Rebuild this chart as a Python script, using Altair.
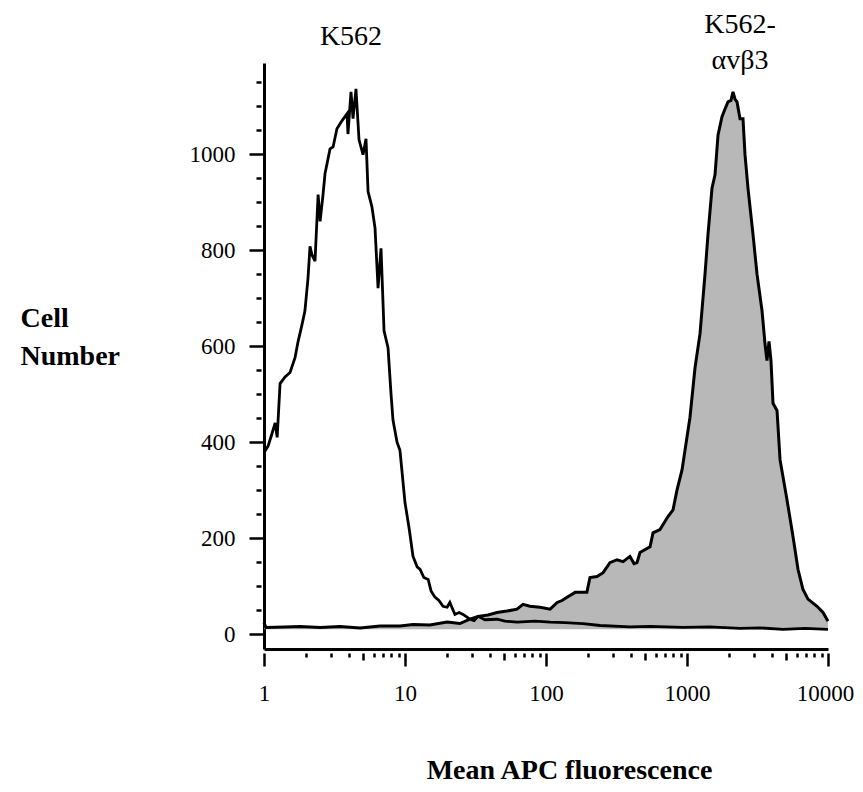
import altair as alt
import pandas as pd

# K562 (open histogram)
k562_x = [1.0, 1.07, 1.14, 1.20, 1.24, 1.30, 1.41, 1.53, 1.66, 1.74, 1.86, 1.95, 2.05, 2.12, 2.19,
          2.30, 2.42, 2.50, 2.62, 2.71, 2.94, 3.09, 3.29, 3.58, 3.88, 3.94, 4.14, 4.28, 4.49, 4.72,
          5.04, 5.29, 5.47, 5.83, 6.13, 6.44, 6.76, 7.10, 7.58, 7.96, 8.22, 8.78, 9.21, 10.0, 10.7,
          11.4, 12.2, 12.8, 13.6, 14.6, 15.3, 16.3, 17.4, 18.6, 19.9, 20.8, 22.6, 24.2, 25.8, 28.9,
          30.9, 33.0, 36.9, 44.9, 51.2, 62.3, 83.6, 107, 136, 183, 242, 394, 547, 937, 1456, 2377,
          3296, 4797, 6871, 10000]
k562_y = [378, 392, 418, 440, 410, 522, 536, 545, 576, 608, 645, 673, 740, 808, 790,
          777, 916, 860, 915, 960, 1011, 1015, 1053, 1070, 1084, 1042, 1130, 1074, 1136, 1030,
          999, 1032, 922, 890, 846, 721, 804, 632, 597, 500, 446, 400, 383, 274, 220,
          162, 140, 135, 118, 114, 90, 77, 70, 58, 56, 66, 41, 45, 41, 31,
          28, 37, 30, 31, 27, 25, 27, 25, 24, 22, 18, 15, 16, 14, 15, 12,
          13, 10, 12, 10]

# K562-avb3 (filled histogram)
avb3_x = [1.0, 1.03, 1.41, 1.80, 2.50, 3.46, 4.80, 6.65, 9.21, 11.4, 15.0, 19.9, 24.5, 28.9, 33.0,
          38.8, 44.9, 52.9, 62.3, 68.7, 77.0, 90.7, 107, 120, 130, 141, 161, 195, 205, 230, 254,
          284, 319, 352, 394, 421, 442, 464, 547, 574, 643, 733, 796, 849, 922, 968, 1050, 1140,
          1237, 1342, 1409, 1504, 1580, 1660, 1771, 1860, 1953, 2051, 2120, 2189, 2263, 2377,
          2495, 2579, 2708, 2938, 3137, 3404, 3574, 3691, 3816, 3941, 4073, 4349, 4571, 5118,
          5650, 6126, 6647, 7213, 8356, 9219, 10000]
avb3_y = [24, 14, 15, 16, 14, 16, 13, 17, 17, 20, 19, 25, 22, 31, 37,
          40, 45, 48, 52, 62, 58, 56, 52, 66, 70, 77, 87, 87, 118, 120, 128,
          149, 155, 151, 162, 147, 149, 170, 182, 211, 218, 245, 259, 300, 342, 383, 452, 555,
          626, 750, 833, 929, 957, 1040, 1078, 1094, 1109, 1112, 1130, 1115, 1109, 1074,
          1074, 999, 929, 833, 750, 674, 605, 570, 610, 570, 481, 466, 363, 280,
          203, 135, 93, 73, 58, 45, 27]

label_text = ["K562", "K562-\n\u03b1v\u03b23"]
label_x = [4.14, 2377]
label_y = [1227, 1252]

x_ticks = [1, 2, 3, 4, 5, 6, 7, 8, 9, 10, 20, 30, 40, 50, 60, 70, 80, 90,
           100, 200, 300, 400, 500, 600, 700, 800, 900,
           1000, 2000, 3000, 4000, 5000, 6000, 7000, 8000, 9000, 10000]
y_ticks = list(range(0, 1151, 50))

k_df = pd.DataFrame({"x": k562_x, "y": k562_y})
a_df = pd.DataFrame({"x": avb3_x, "y": avb3_y})
l_df = pd.DataFrame({"x": label_x, "y": label_y, "t": label_text})

FONT = "Liberation Serif"

x_axis = alt.Axis(
    values=x_ticks,
    labelExpr="indexof([1,10,100,1000,10000], datum.value) >= 0 ? format(datum.value, 'd') : ''",
    labelFont=FONT, labelFontSize=23, labelColor="black", labelPadding=16,
    labelOverlap=False, labelFlush=False,
    labelOffset={"condition": {"test": "datum.value === 10000", "value": -3}, "value": 0},
    domainColor="black", domainWidth=3,
    tickColor="black", tickWidth=2.5,
    tickSize={"condition": [
        {"test": "indexof([1,10,100,1000,10000], datum.value) >= 0", "value": 17},
        {"test": "indexof([5,50,500,5000], datum.value) >= 0", "value": 11}],
        "value": 8},
    tickDash=[0, 4, 30],
    grid=False,
    title="Mean APC fluorescence",
    titleFont=FONT, titleFontSize=28, titleFontWeight="bold", titleColor="black",
    titleAlign="center", titleBaseline="alphabetic", titleX=305, titleY=129,
)

y_axis = alt.Axis(
    values=y_ticks,
    labelExpr="datum.value % 200 === 0 ? format(datum.value, 'd') : ''",
    labelFont=FONT, labelFontSize=23, labelColor="black", labelPadding=14,
    labelOverlap=False, labelFlush=False,
    domainColor="black", domainWidth=3,
    tickColor="black", tickWidth=2.5,
    tickSize={"condition": {"test": "datum.value % 200 === 0", "value": 15}, "value": 8},
    tickDash={"condition": {"test": "datum.value % 200 === 0", "value": [1, 0]}, "value": [0, 3, 20]},
    grid=False,
    title=["Cell", "Number"],
    titleFont=FONT, titleFontSize=28, titleFontWeight="bold", titleColor="black",
    titleAngle=0, titleAlign="left", titleBaseline="alphabetic",
    titleX=-244, titleY=263, titleLineHeight=38,
)

X = alt.X("x:Q", scale=alt.Scale(type="log", domain=[1, 10000], nice=False), axis=x_axis)
Y = alt.Y("y:Q", scale=alt.Scale(domain=[-31, 1190], nice=False, zero=False), axis=y_axis)

area = alt.Chart(a_df).mark_area(color="#b8b8b8", opacity=1, interpolate="linear").encode(
    x=X, y=Y, y2=alt.datum(10)
)
line_a = alt.Chart(a_df).mark_line(color="black", strokeWidth=3, interpolate="linear").encode(x=X, y=Y)
line_k = alt.Chart(k_df).mark_line(color="black", strokeWidth=2.8, interpolate="linear").encode(x=X, y=Y)
labels = alt.Chart(l_df).mark_text(
    font=FONT, fontSize=28, color="black", align="center", baseline="alphabetic",
    lineBreak="\n", lineHeight=36
).encode(x=X, y=Y, text="t:N")

chart = alt.layer(area, line_k, line_a, labels).properties(
    width=564, height=586,
    padding={"left": 256, "top": 55, "right": 27, "bottom": 135},
    autosize=alt.AutoSizeParams(type="none"),
    background="white",
).configure_view(stroke=None)

chart.save("out.html", embed_options={"renderer": "svg", "actions": False})
